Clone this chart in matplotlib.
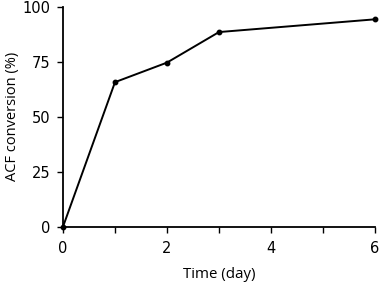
import matplotlib
matplotlib.use('Agg')
import matplotlib.pyplot as plt
from matplotlib.ticker import MultipleLocator

# data
days = [0, 1, 2, 3, 6]
conversion = [0, 65.8, 74.7, 88.6, 94.4]

x_ticks = [0, 2, 4, 6]
y_ticks = [0, 25, 50, 75, 100]

plt.rcParams['font.family'] = ['DejaVu Sans']

fig = plt.figure(figsize=(3.83, 2.84), dpi=100)
ax = fig.add_axes([0.1645, 0.2017, 0.8145, 0.7736])

ax.plot(days, conversion, color='black', linewidth=1.4,
        marker='o', markersize=3.2, clip_on=False, zorder=3)

ax.set_xlim(0, 6)
ax.set_ylim(0, 100)
ax.set_xticks(x_ticks)
ax.set_yticks(y_ticks)
ax.xaxis.set_minor_locator(MultipleLocator(1))

for s in ['top', 'right']:
    ax.spines[s].set_visible(False)
for s in ['left', 'bottom']:
    ax.spines[s].set_linewidth(1.3)

ax.tick_params(axis='both', which='both', direction='out', width=1.0,
               labelsize=10.5, colors='black')
ax.tick_params(axis='y', which='major', length=4, pad=5)
ax.tick_params(axis='x', which='major', length=4, pad=6.5)
ax.tick_params(axis='x', which='minor', length=4)

ax.set_xlabel('Time (day)', fontsize=10.8, family='Open Sans', labelpad=7.5)
ax.set_ylabel('ACF conversion (%)', fontsize=10.5, family='Open Sans', labelpad=2)

plt.savefig('out.png', dpi=100)
